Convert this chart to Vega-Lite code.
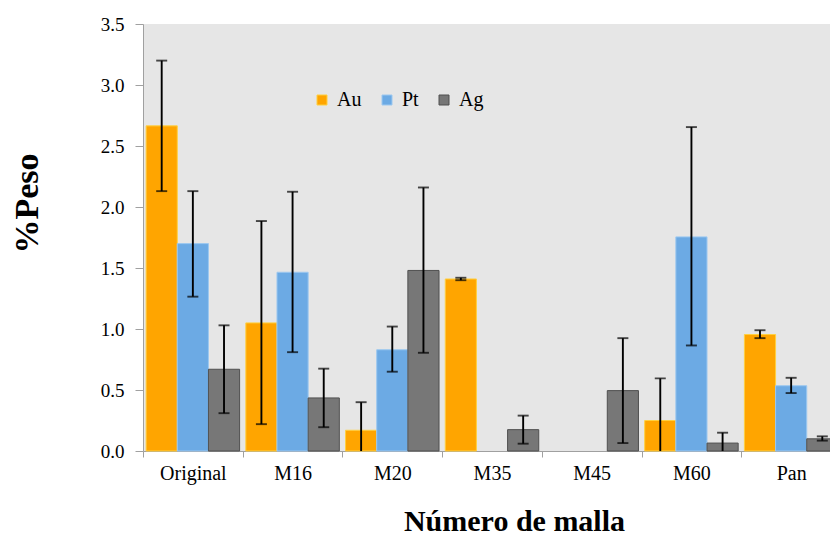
{
  "$schema": "https://vega.github.io/schema/vega-lite/v6.json",
  "width": 698,
  "height": 427,
  "autosize": {"type": "none"},
  "padding": {"left": 143, "top": 24, "right": -11, "bottom": 85},
  "background": "white",
  "view": {"fill": "#E6E6E6", "stroke": null},
  "config": {
    "font": "Liberation Serif",
    "axis": {"labelFont": "Liberation Serif", "titleFont": "Liberation Serif"},
    "legend": {"labelFont": "Liberation Serif"}
  },
  "data": {
    "values": [
      {"cat": "Original", "metal": "Au", "value": 2.665, "lo": 2.13, "hi": 3.2},
      {"cat": "Original", "metal": "Pt", "value": 1.7, "lo": 1.265, "hi": 2.13},
      {"cat": "Original", "metal": "Ag", "value": 0.67, "lo": 0.31, "hi": 1.03},
      {"cat": "M16", "metal": "Au", "value": 1.05, "lo": 0.22, "hi": 1.885},
      {"cat": "M16", "metal": "Pt", "value": 1.465, "lo": 0.81, "hi": 2.125},
      {"cat": "M16", "metal": "Ag", "value": 0.435, "lo": 0.195, "hi": 0.675},
      {"cat": "M20", "metal": "Au", "value": 0.17, "lo": -0.06, "hi": 0.4},
      {"cat": "M20", "metal": "Pt", "value": 0.83, "lo": 0.65, "hi": 1.02},
      {"cat": "M20", "metal": "Ag", "value": 1.48, "lo": 0.805, "hi": 2.16},
      {"cat": "M35", "metal": "Au", "value": 1.41, "lo": 1.4, "hi": 1.42},
      {"cat": "M35", "metal": "Ag", "value": 0.175, "lo": 0.06, "hi": 0.29},
      {"cat": "M45", "metal": "Ag", "value": 0.495, "lo": 0.065, "hi": 0.925},
      {"cat": "M60", "metal": "Au", "value": 0.25, "lo": -0.1, "hi": 0.595},
      {"cat": "M60", "metal": "Pt", "value": 1.755, "lo": 0.865, "hi": 2.655},
      {"cat": "M60", "metal": "Ag", "value": 0.065, "lo": -0.02, "hi": 0.15},
      {"cat": "Pan", "metal": "Au", "value": 0.955, "lo": 0.925, "hi": 0.99},
      {"cat": "Pan", "metal": "Pt", "value": 0.535, "lo": 0.475, "hi": 0.6},
      {"cat": "Pan", "metal": "Ag", "value": 0.1, "lo": 0.085, "hi": 0.12}
    ]
  },
  "encoding": {
    "x": {
      "field": "cat",
      "type": "nominal",
      "sort": ["Original", "M16", "M20", "M35", "M45", "M60", "Pan"],
      "scale": {"domain": ["Original", "M16", "M20", "M35", "M45", "M60", "Pan"], "paddingInner": 0, "paddingOuter": 0},
      "axis": {
        "title": "Número de malla",
        "titleFont": "Liberation Serif",
        "titleFontSize": 30,
        "titleFontWeight": "bold",
        "titleColor": "#000",
        "titleX": 371,
        "titleY": 85,
        "titleAlign": "center",
        "titleBaseline": "bottom",
        "labelFont": "Liberation Serif",
        "labelAngle": 0,
        "labelFontSize": 20,
        "labelColor": "#000",
        "labelPadding": 6,
        "tickBand": "extent",
        "tickSize": 6,
        "tickColor": "#A0A0A0",
        "domainColor": "#A0A0A0",
        "grid": false
      }
    },
    "xOffset": {
      "field": "metal",
      "type": "nominal",
      "scale": {"domain": ["Au", "Pt", "Ag"], "paddingInner": 0, "paddingOuter": 0.1}
    }
  },
  "layer": [
    {
      "mark": {"type": "bar", "strokeWidth": 1},
      "encoding": {
        "y": {
          "field": "value",
          "type": "quantitative",
          "scale": {"domain": [0, 3.5], "nice": false},
          "axis": {
            "title": "%Peso",
            "values": [0, 0.5, 1, 1.5, 2, 2.5, 3, 3.5],
            "format": ".1f",
            "grid": false,
            "labelFont": "Liberation Serif",
            "labelFontSize": 19,
            "labelColor": "#000",
            "labelPadding": 11,
            "tickSize": 8,
            "tickColor": "#A0A0A0",
            "domainColor": "#A0A0A0",
            "titleFont": "Liberation Serif",
            "titleFontSize": 34,
            "titleFontWeight": "bold",
            "titleColor": "#000",
            "titleX": -106,
            "titleY": 179,
            "titleAngle": -90,
            "titleAlign": "center",
            "titleBaseline": "alphabetic"
          }
        },
        "fill": {
          "field": "metal",
          "type": "nominal",
          "scale": {"domain": ["Au", "Pt", "Ag"], "range": ["#FFA500", "#6CAAE4", "#777777"]},
          "legend": {
            "title": null,
            "orient": "none",
            "legendX": 169,
            "legendY": 66,
            "direction": "horizontal",
            "symbolType": "square",
            "symbolSize": 100,
            "symbolStrokeWidth": 1,
            "labelFont": "Liberation Serif",
            "labelFontSize": 20,
            "labelColor": "#000",
            "labelOffset": 5,
            "columnPadding": 15,
            "padding": 0
          }
        },
        "stroke": {
          "field": "metal",
          "type": "nominal",
          "scale": {"domain": ["Au", "Pt", "Ag"], "range": ["#FFD040", "#9CC8F0", "#505050"]},
          "legend": {
            "title": null,
            "orient": "none",
            "legendX": 169,
            "legendY": 66,
            "direction": "horizontal",
            "symbolType": "square",
            "symbolSize": 100,
            "symbolStrokeWidth": 1,
            "labelFont": "Liberation Serif",
            "labelFontSize": 20,
            "labelColor": "#000",
            "labelOffset": 5,
            "columnPadding": 15,
            "padding": 0
          }
        }
      }
    },
    {
      "mark": {"type": "rule", "color": "#000", "strokeWidth": 1.9, "clip": true},
      "encoding": {
        "y": {"field": "lo", "type": "quantitative", "title": "%Peso"},
        "y2": {"field": "hi"}
      }
    },
    {
      "mark": {"type": "tick", "orient": "horizontal", "size": 11, "thickness": 1.9, "color": "#000", "clip": true},
      "encoding": {
        "y": {"field": "lo", "type": "quantitative", "title": "%Peso"}
      }
    },
    {
      "mark": {"type": "tick", "orient": "horizontal", "size": 11, "thickness": 1.9, "color": "#000", "clip": true},
      "encoding": {
        "y": {"field": "hi", "type": "quantitative", "title": "%Peso"}
      }
    }
  ]
}
